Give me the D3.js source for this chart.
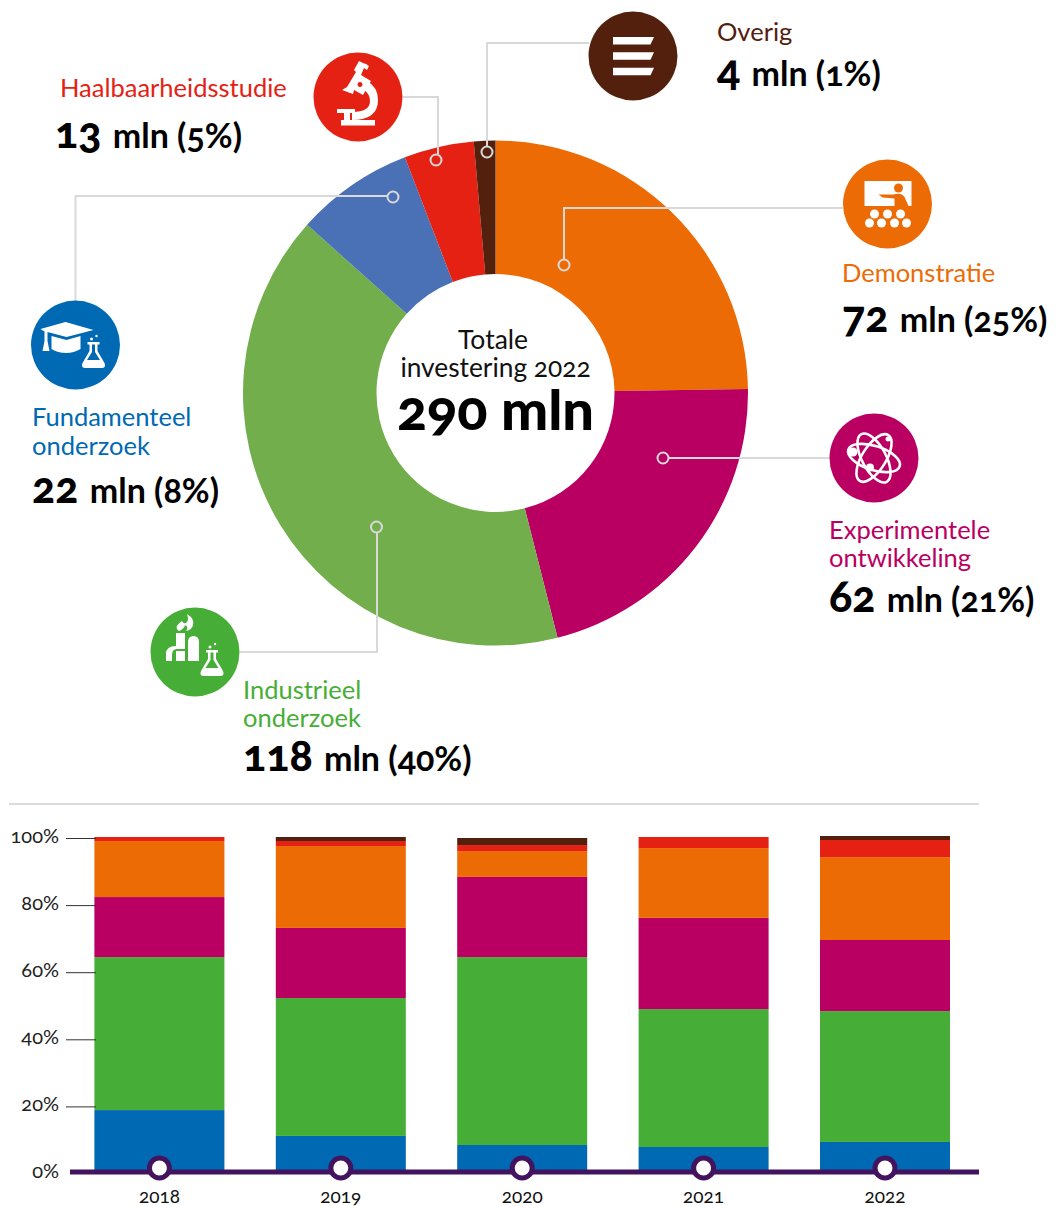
<!DOCTYPE html>
<html>
<head>
<meta charset="utf-8">
<script src="https://cdn.jsdelivr.net/npm/d3@7"></script>
<style>
  html, body { margin: 0; padding: 0; background: #fff; }
  svg { display: block; }
  text { font-family: "Lato", "Noto Sans", sans-serif; font-feature-settings: "onum" 1; }
</style>
</head>
<body>
<svg width="1057" height="1206"></svg>
<script>
// donut data, in drawing order (clockwise from 12 o'clock)
var categories = ["Demonstratie", "Experimentele ontwikkeling", "Industrieel onderzoek", "Fundamenteel onderzoek", "Haalbaarheidsstudie", "Overig"];
var amounts = [72, 62, 118, 22, 13, 4];
var percents = [25, 21, 40, 8, 5, 1];
var pieColors = ["#ec6b05", "#b90062", "#72ae4b", "#4a70b5", "#e52114", "#53200e"];
var iconColors = ["#ec6b05", "#b90062", "#46ae36", "#0069b4", "#e52114", "#53200e"];

// stacked bars, share per year in %
var years = ["2018", "2019", "2020", "2021", "2022"];
var fundamenteel = [18.9, 11.2, 8.5, 7.9, 9.4];
var industrieel = [45.6, 41.1, 56.0, 41.1, 39.0];
var experimenteel = [17.9, 20.9, 23.9, 27.2, 21.2];
var demonstratie = [16.7, 24.4, 7.7, 20.8, 24.7];
var haalbaarheid = [1.2, 1.5, 1.8, 3.3, 5.1];
var overig = [0, 1.2, 2.1, 0, 1.2];
var yTicks = [0, 20, 40, 60, 80, 100];

var svg = d3.select("svg");

// ---- donut ----
var cx = 495.5, cy = 393;
var pie = d3.pie().sort(null).value(function(d) { return d; });
var arc = d3.arc().innerRadius(119).outerRadius(252.5);

svg.append("g")
    .attr("transform", "translate(" + cx + "," + cy + ")")
    .selectAll("path")
    .data(pie(amounts))
    .enter().append("path")
    .attr("d", arc)
    .attr("fill", function(d, i) { return pieColors[i]; });

// leader lines from icon to ring
var leaders = [
    { path: "M843,208H564V259", ring: [564, 265] },
    { path: "M830,458H669", ring: [663, 458] },
    { path: "M240,652H377V533", ring: [376.5, 527] },
    { path: "M75.5,301V196H387", ring: [393, 197] },
    { path: "M403,97H438V154", ring: [436, 160] },
    { path: "M589,43H487V146", ring: [487, 152] }
];
var lead = svg.append("g").attr("fill", "none").attr("stroke", "#d9d9d9").attr("stroke-width", 2);
leaders.forEach(function(l) {
    lead.append("path").attr("d", l.path);
    lead.append("circle").attr("cx", l.ring[0]).attr("cy", l.ring[1]).attr("r", 5.5);
});

// center text
var mid = svg.append("g").attr("text-anchor", "middle").attr("fill", "#111");
mid.append("text").attr("x", 493).attr("y", 349).attr("font-size", 26.5).text("Totale");
mid.append("text").attr("x", 495.5).attr("y", 377).attr("font-size", 26.3).text("investering 2022");
mid.append("text").attr("x", 495.5).attr("y", 430).attr("font-size", 56).attr("font-weight", 900).attr("fill", "#000").text("290 mln");

// labels
var labelPos = [
    { x: 842, y: [282], vy: 332 },
    { x: 829, y: [539, 567], vy: 612 },
    { x: 243, y: [699, 727], vy: 771 },
    { x: 32, y: [426, 455], vy: 503 },
    { x: 60, y: [97], vy: 148, vx: 55 },
    { x: 717, y: [41], vy: 86 }
];
var labelLines = [["Demonstratie"], ["Experimentele", "ontwikkeling"], ["Industrieel", "onderzoek"], ["Fundamenteel", "onderzoek"], ["Haalbaarheidsstudie"], ["Overig"]];

labelPos.forEach(function(p, i) {
    labelLines[i].forEach(function(line, j) {
        svg.append("text").attr("x", p.x).attr("y", p.y[j])
            .attr("font-size", 25.5).attr("fill", iconColors[i]).text(line);
    });
    var t = svg.append("text").attr("x", p.vx || p.x).attr("y", p.vy).attr("fill", "#000");
    t.append("tspan").attr("font-size", 43).attr("font-weight", 900).text(amounts[i]);
    t.append("tspan").attr("dx", 3).attr("font-size", 34).attr("font-weight", 700).text(" mln ");
    t.append("tspan").attr("font-size", 34).attr("font-weight", 700).text("(" + percents[i] + "%)");
});

// icons
var iconPos = [[887.5, 204], [874, 458], [195, 652], [75.5, 345], [358, 97], [633, 56]];
var icons = iconPos.map(function(p, i) {
    var g = svg.append("g").attr("transform", "translate(" + p[0] + "," + p[1] + ")");
    g.append("circle").attr("r", 44.5).attr("fill", iconColors[i]);
    return g.append("g").attr("fill", "#fff");
});

function flask(g, x, y) {
    var f = g.append("g").attr("transform", "translate(" + x + "," + y + ")");
    f.append("path").attr("fill-rule", "evenodd")
        .attr("d", "M-6,-15H6V-12.5H4V-6L11,6Q13,11 8,11H-8Q-13,11 -11,6L-4,-6V-12.5H-6ZM-1.5,-12.5V-5L-6.5,3H6.5L1.5,-5V-12.5Z");
    f.append("circle").attr("cx", -2).attr("cy", -18).attr("r", 1.5);
    f.append("circle").attr("cx", 3).attr("cy", -21).attr("r", 1.2);
}

// demonstratie: presenter with audience
icons[0].append("rect").attr("x", -23).attr("y", -23).attr("width", 47).attr("height", 25);
icons[0].append("circle").attr("cx", 11).attr("cy", -16).attr("r", 4.5).attr("fill", "#ec6b05");
icons[0].append("path").attr("fill", "#ec6b05").attr("d", "M-9,-9.5H6Q14,-12 17,-7L21,2H7V-5.5L-5,-6.5Z");
[[-13, 10], [0, 10], [13, 10], [-18, 19], [-6, 19], [7, 19], [19, 19]].forEach(function(c) {
    icons[0].append("circle").attr("cx", c[0]).attr("cy", c[1]).attr("r", 4.5);
});

// experimenteel: atom
var atom = icons[1].append("g").attr("fill", "none").attr("stroke", "#fff").attr("stroke-width", 2.6);
[18, 62, 122].forEach(function(a) {
    atom.append("ellipse").attr("rx", 27).attr("ry", 12).attr("transform", "rotate(" + a + ")");
});
[[-21, -6, 4.5], [-4, 9.5, 4], [14, -19, 2.5]].forEach(function(c) {
    icons[1].append("circle").attr("cx", c[0]).attr("cy", c[1]).attr("r", c[2]);
});

// industrieel: factory and flask
icons[2].append("path").attr("d", "M-29,9V2Q-29,-6 -19,-6V-19H-10V-3H-18Q-23,-3 -23,3V9ZM-19,-1H-10V9H-19ZM-7,9V-10Q-7,-16 -1.5,-16Q4,-16 4,-10V9Z");
icons[2].append("path").attr("d", "M-16,-21Q-22,-25 -13,-31Q-11,-27 -8,-30Q-6,-33 -8,-38Q0,-33 -2,-27Q-3,-22 -9,-21Q-6,-25 -10,-27Q-11,-23 -16,-21Z");
flask(icons[2], 17, 13);

// fundamenteel: graduation cap and flask
icons[3].append("path").attr("d", "M-35,-16L-10,-23L18,-15L-9,-8L-28,-13V-4L-26,6H-33L-31,-4V-13.5Z");
icons[3].append("path").attr("d", "M-24,-9L-9,-5L5,-9V4Q-2,8 -9,8Q-18,8 -24,4Z");
flask(icons[3], 18, 12);

// haalbaarheid: microscope
icons[4].append("path").attr("d", "M-17,23H17V28.5H-17ZM-21,12H-3V16H-8V23H-14V16H-21Z");
icons[4].append("path").attr("d", "M-6,23Q20,23 20,3Q20,-10 9,-16L5,-8Q12,-3 12,4Q12,15 -6,15Z");
icons[4].append("path").attr("fill-rule", "evenodd").attr("d", "M-16,-7L-11,-10L-2,-25L-4,-27L1,-36L5,-34L8,-33L11,-31L9,-27L6,-29L3,-22L13,-16L5,-2L-4,-7L-5,-3ZM2,-15a2.5,2.5 0 1 0 0.01,0Z");

// overig: three stacked bars
[-19, -3.7, 11.7].forEach(function(y) {
    icons[5].append("path").attr("d", "M-20," + y + "H21L17.5," + (y + 7.5) + "H-20Z");
});

// ---- stacked bars ----
var stackInput = years.map(function(y, i) {
    return { year: y, a: fundamenteel[i], b: industrieel[i], c: experimenteel[i], d: demonstratie[i], e: haalbaarheid[i], f: overig[i] };
});
var stack = d3.stack().keys(["a", "b", "c", "d", "e", "f"]);
var barColors = ["#0069b4", "#46ae36", "#b90062", "#ec6b05", "#e52114", "#53200e"];

var x = d3.scaleBand().domain(years).range([94.4, 950]).paddingInner(0.2833);
var y = d3.scaleLinear().domain([0, 100]).range([1173.5, 838]);

svg.append("line").attr("x1", 9).attr("x2", 979).attr("y1", 804).attr("y2", 804)
    .attr("stroke", "#dcdcdc").attr("stroke-width", 2);

svg.append("g").selectAll("g")
    .data(stack(stackInput))
    .enter().append("g")
    .attr("fill", function(d, i) { return barColors[i]; })
    .selectAll("rect")
    .data(function(d) { return d; })
    .enter().append("rect")
    .attr("x", function(d) { return x(d.data.year); })
    .attr("width", x.bandwidth())
    .attr("y", function(d) { return y(d[1]); })
    .attr("height", function(d) { return y(d[0]) - y(d[1]); });

var yAxis = svg.append("g")
    .attr("transform", "translate(96,0)")
    .call(d3.axisLeft(y).tickValues(yTicks).tickSize(30).tickPadding(7).tickFormat(function(d) { return d + "%"; }));
yAxis.select(".domain").remove();
yAxis.selectAll("line").attr("stroke", "#333");
yAxis.selectAll("text").attr("font-size", 20).attr("fill", "#222").attr("dy", "0.22em").style("font-family", null);
yAxis.attr("font-family", null);
yAxis.selectAll(".tick").filter(function(d) { return d === 0; }).select("line").remove();

// purple time line with year markers
svg.append("line").attr("x1", 70).attr("x2", 979).attr("y1", y(0) - 1.5).attr("y2", y(0) - 1.5)
    .attr("stroke", "#42145f").attr("stroke-width", 5);

svg.append("g").selectAll("circle")
    .data(years)
    .enter().append("circle")
    .attr("cx", function(d) { return x(d) + x.bandwidth() / 2; })
    .attr("cy", y(0) - 5.5)
    .attr("r", 10)
    .attr("fill", "#fff")
    .attr("stroke", "#42145f")
    .attr("stroke-width", 5);

svg.append("g").selectAll("text")
    .data(years)
    .enter().append("text")
    .attr("x", function(d) { return x(d) + x.bandwidth() / 2; })
    .attr("y", 1203)
    .attr("text-anchor", "middle")
    .attr("font-size", 19)
    .attr("fill", "#111")
    .text(function(d) { return d; });
</script>
</body>
</html>
